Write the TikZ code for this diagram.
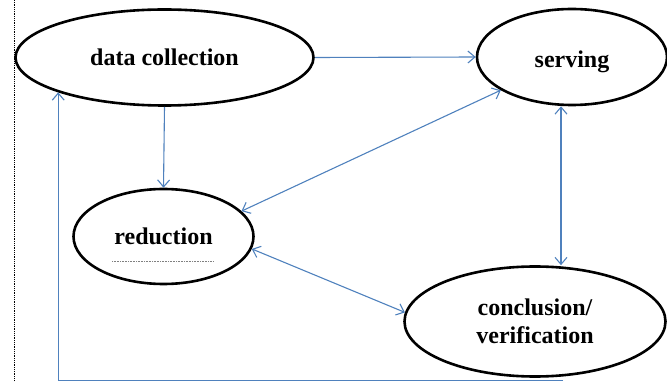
\documentclass[tikz,border=0pt]{standalone}
\usepackage{fontspec}
\setmainfont{Liberation Serif}[BoldFont={Liberation Serif Bold}]
\usetikzlibrary{shapes.geometric,arrows.meta}
\definecolor{linkblue}{RGB}{79,129,189}
\tikzset{
  stage/.style={draw, ellipse, line width=2.6pt, inner sep=0pt, align=center,
    font=\fontsize{24}{28}\selectfont\bfseries},
  link/.style={draw=linkblue, line width=1.1pt, -{Straight Barb[length=7pt,width=12pt]}},
  dlink/.style={link, {Straight Barb[length=7pt,width=12pt]}-{Straight Barb[length=7pt,width=12pt]}}
}
\begin{document}
\begin{tikzpicture}[x=1pt,y=-1pt]
\useasboundingbox (0,0) rectangle (667,382);
% left margin rule
\draw[densely dotted, line width=0.8pt] (14,0) -- (14,382);

\node[stage, minimum width=298pt, minimum height=96pt] (dcol) at (164.5,57.5) {data collection};
\node[stage, minimum width=190pt, minimum height=96pt] (serv) at (572,57) {\raisebox{-5pt}[\height][\depth]{serving}};
\node[stage, minimum width=180pt, minimum height=95pt] (red) at (163.5,236.5) {reduction};
\node[stage, minimum width=261pt, minimum height=110pt] (conc) at (535,321.5) {conclusion/\\verification};

% underline in reduction
\draw[densely dotted, line width=0.6pt, gray] (112,261) -- (213,261);

% data collection
\draw[link] (dcol.east) -- (serv.west); % serving
\draw[link] (dcol.south) -- (red.north); % reduction

% serving
\draw[dlink] (red.18) -- (serv.205); % reduction
\draw[dlink] ([xshift=-11pt]serv.south) -- ([xshift=26pt]conc.north); % conclusion

% reduction
\draw[dlink] (red.-8) -- (conc.176); % conclusion

% back to data collection
\coordinate (loopR) at ([xshift=28pt,yshift=-3pt]conc.south);
\draw[link] (loopR) -| (dcol.south west);
\end{tikzpicture}
\end{document}
